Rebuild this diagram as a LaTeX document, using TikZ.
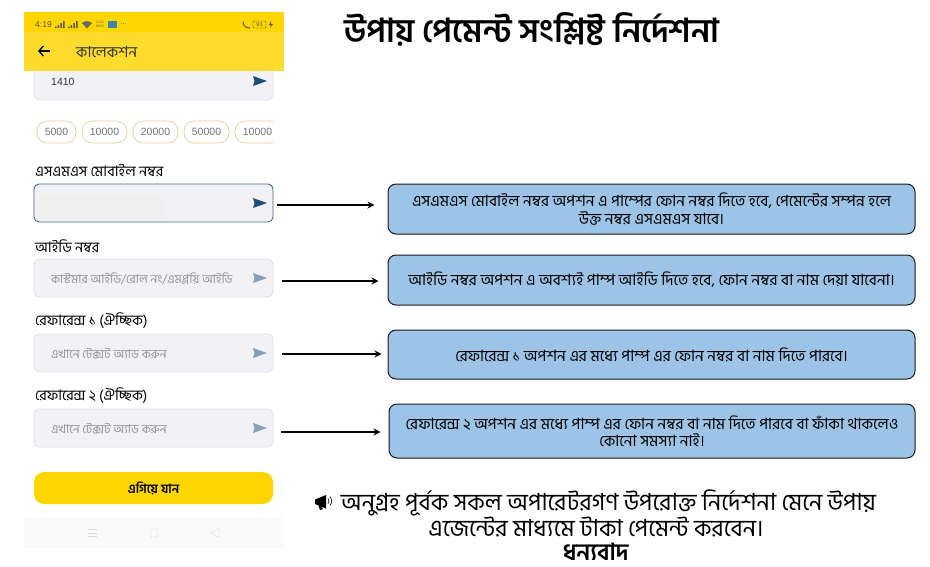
\documentclass[tikz,border=0pt]{standalone}
\usepackage{fontspec}
\setmainfont[Script=Bengali]{Hind Siliguri}
\newfontfamily\latinfont{Liberation Sans}
\usetikzlibrary{arrows.meta}

\definecolor{barYellow}{HTML}{FFD600}
\definecolor{appYellow}{HTML}{FDDC2E}
\definecolor{fieldGray}{HTML}{F1F1F6}
\definecolor{fieldEdge}{HTML}{DFDFE6}
\definecolor{sendBlue}{HTML}{1F4E79}
\definecolor{noteBlue}{HTML}{9DC3E6}
\definecolor{chipEdge}{HTML}{E0D09A}

\tikzset{
  field/.style={draw=fieldEdge,fill=fieldGray,rounded corners=5pt,line width=0.7pt,
    minimum width=239pt,minimum height=38pt,inner sep=0pt},
  chip/.style={draw=chipEdge,fill=white,rounded corners=10pt,line width=0.7pt,
    minimum height=22pt,inner sep=0pt,text=black!55,font=\latinfont\fontsize{10.5}{12}\selectfont},
  fieldlabel/.style={anchor=west,inner sep=0pt,font=\fontsize{14.5}{16}\selectfont},
  hint/.style={anchor=west,inner sep=0pt,text=black!42,font=\fontsize{12.1}{14}\selectfont},
  note/.style={draw=black!90,fill=noteBlue,rounded corners=8pt,line width=1pt,
    minimum width=527pt,align=center,inner sep=0pt,font=\fontsize{15.5}{17.5}\selectfont},
  pointer/.style={-{Stealth[length=7pt,width=7pt]},line width=1.4pt},
  send/.style={fill=sendBlue},
  sendfaint/.style={fill=sendBlue,fill opacity=0.5}
}

\begin{document}
\begin{tikzpicture}[x=1pt,y=-1pt]
\useasboundingbox (0,0) rectangle (930,566);

% phone screen
\node [field,minimum height=48pt] (amount) at (153.5,76) {};
\fill [barYellow] (24,12) rectangle (284,32);
\fill [appYellow] (24,32) rectangle (284,71);

\node [anchor=west,inner sep=0pt,text=black!65,font=\latinfont\fontsize{8.5}{9}\selectfont] (clock) at (35,24.5) {4:19};
\foreach \x in {55,68} {
  \fill [black!65] (\x,28) rectangle +(1.5,-1.5) (\x+2.7,28) rectangle +(1.5,-3) (\x+5.4,28) rectangle +(1.5,-5) (\x+8.1,28) rectangle +(1.5,-7);
}
\fill [black!60] (87,28.5) -- (82,23) arc (-130:-50:7.8) -- cycle;
\node [inner sep=0pt,align=center,text=black!60,font=\latinfont\fontsize{3.6}{3.8}\selectfont] (speed) at (100,24.5) {2.00\\KB/S};
\fill [cyan!60!black] (108,21) rectangle (117,28);
\node [inner sep=0pt,text=black!60,font=\latinfont\fontsize{7}{8}\selectfont] (moredots) at (123.5,24) {...};
\draw [black!65,line width=1pt] (243,21.5) .. controls (243,26) and (246,28) .. (250,28);
\draw [black!65,rounded corners=1pt] (253,21) rectangle (266,28);
\node [inner sep=0pt,text=black!65,font=\latinfont\fontsize{5.5}{6}\selectfont] (battery) at (259.5,24.5) {93};
\fill [black!65] (271,21) -- (269,25) -- (271,25) -- (270,28) -- (273,24) -- (271,24) -- cycle;

\draw [-{Straight Barb[length=4.5pt,width=10pt]},line width=1.3pt] (50,51) -- (38,51);
\node [anchor=west,inner sep=0pt,text=black!80,font=\fontsize{15.2}{17}\selectfont] (apptitle) at (76,52) {কালেকশন};

\node [anchor=west,inner sep=0pt,text=black!80,font=\latinfont\fontsize{10.5}{12}\selectfont] (amountvalue) at (51,81.5) {1410};
\fill [send] (253,76) -- (267,81) -- (253,86) -- (254.5,81) -- cycle;

\node [chip,minimum width=39pt] (chipa) at (56.5,132) {5000};
\node [chip,minimum width=45pt] (chipb) at (104.5,132) {10000};
\node [chip,minimum width=45pt] (chipc) at (155.5,132) {20000};
\node [chip,minimum width=45pt] (chipd) at (206.5,132) {50000};
\begin{scope}
\clip (230,115) rectangle (273,150);
\node [chip,minimum width=45pt] (chipe) at (257.5,132) {10000};
\end{scope}

\node [fieldlabel] (labela) at (35,171) {এসএমএস মোবাইল নম্বর};
\node [field,draw=sendBlue!85,line width=0.9pt] (fielda) at (153.5,203) {};
\fill [black!6] (37,195) rectangle (165,220);
\fill [send] (253,198) -- (267,203) -- (253,208) -- (254.5,203) -- cycle;

\node [fieldlabel] (labelb) at (35,246) {আইডি নম্বর};
\node [field] (fieldb) at (153.5,278) {};
\node [hint] (hintb) at (51,279) {কাস্টমার আইডি/রোল নং/এমপ্লয়ি আইডি};
\fill [sendfaint] (253,273) -- (267,278) -- (253,283) -- (254.5,278) -- cycle;

\node [fieldlabel] (labelc) at (35,321) {রেফারেন্স ১ (ঐচ্ছিক)};
\node [field] (fieldc) at (153.5,353) {};
\node [hint] (hintc) at (51,354) {এখানে টেক্সট অ্যাড করুন};
\fill [sendfaint] (253,348) -- (267,353) -- (253,358) -- (254.5,353) -- cycle;

\node [fieldlabel] (labeld) at (35,396) {রেফারেন্স ২ (ঐচ্ছিক)};
\node [field] (fieldd) at (153.5,428) {};
\node [hint] (hintd) at (51,429) {এখানে টেক্সট অ্যাড করুন};
\fill [sendfaint] (253,423) -- (267,428) -- (253,433) -- (254.5,428) -- cycle;

\node [field,draw=none,fill=barYellow,rounded corners=10pt,minimum height=32pt,
  font=\bfseries\fontsize{12.7}{14}\selectfont] (nextbutton) at (153.5,488) {এগিয়ে যান};

% nav bar
\fill [black!2] (24,517) rectangle (284,548);
\draw [black!15] (88,529.5) -- +(9,0) (88,533) -- +(9,0) (88,536.5) -- +(9,0);
\draw [black!15,rounded corners=1.5pt] (150,529) rectangle (158,537);
\draw [black!15] (219,528.5) -- (211,533) -- (219,537.5) -- cycle;

% notes
\node [note,minimum height=50pt] (notea) at (651.5,209)
  {এসএমএস মোবাইল নম্বর অপশন এ পাম্পের ফোন নম্বর দিতে হবে, পেমেন্টের সম্পন্ন হলে\\ উক্ত নম্বর এসএমএস যাবে।};
\node [note,minimum height=50pt] (noteb) at (651.5,280)
  {আইডি নম্বর অপশন এ অবশ্যই পাম্প আইডি দিতে হবে, ফোন নম্বর বা নাম দেয়া যাবেনা।};
\node [note,minimum height=49pt] (notec) at (651.5,354.5)
  {রেফারেন্স ১ অপশন এর মধ্যে পাম্প এর ফোন নম্বর বা নাম দিতে পারবে।};
\node [note,minimum width=526pt,minimum height=54pt] (noted) at (652,431)
  {রেফারেন্স ২ অপশন এর মধ্যে পাম্প এর ফোন নম্বর বা নাম দিতে পারবে বা ফাঁকা থাকলেও\\ কোনো সমস্যা নাই।};

\draw [pointer,shorten <=4pt,shorten >=13pt] ([yshift=-2pt]fielda.east) -- ([yshift=4pt]notea.west);
\draw [pointer,shorten <=9pt,shorten >=9pt] ([yshift=-3pt]fieldb.east) -- ([yshift=-1pt]noteb.west);
\draw [pointer,shorten <=9pt,shorten >=6pt] ([yshift=-1pt]fieldc.east) -- ([yshift=.5pt]notec.west);
\draw [pointer,shorten <=8pt,shorten >=8pt] ([yshift=-4pt]fieldd.east) -- ([yshift=-1pt]noted.west);

\node [font=\bfseries\fontsize{33}{38}\selectfont] (heading) at (532,29) {উপায় পেমেন্ট সংশ্লিষ্ট নির্দেশনা};
\node [align=center,inner sep=0pt,font=\fontsize{23.5}{24}\selectfont] (closing) at (596,525)
  {\hspace*{25pt}অনুগ্রহ পূর্বক সকল অপারেটরগণ উপরোক্ত নির্দেশনা মেনে উপায়\\
   এজেন্টের মাধ্যমে টাকা পেমেন্ট করবেন।\\ \textbf{ধন্যবাদ}};
% megaphone
\fill (315,499.5) -- (326,495) -- (326,508.5) -- (315,504) -- cycle;
\fill (318,504) -- (320,510) -- (323,509) -- (321,505) -- cycle;
\draw [line width=0.6pt] (328,498.5) arc (-40:40:4) (330,496.5) arc (-40:40:7);
\end{tikzpicture}
\end{document}
